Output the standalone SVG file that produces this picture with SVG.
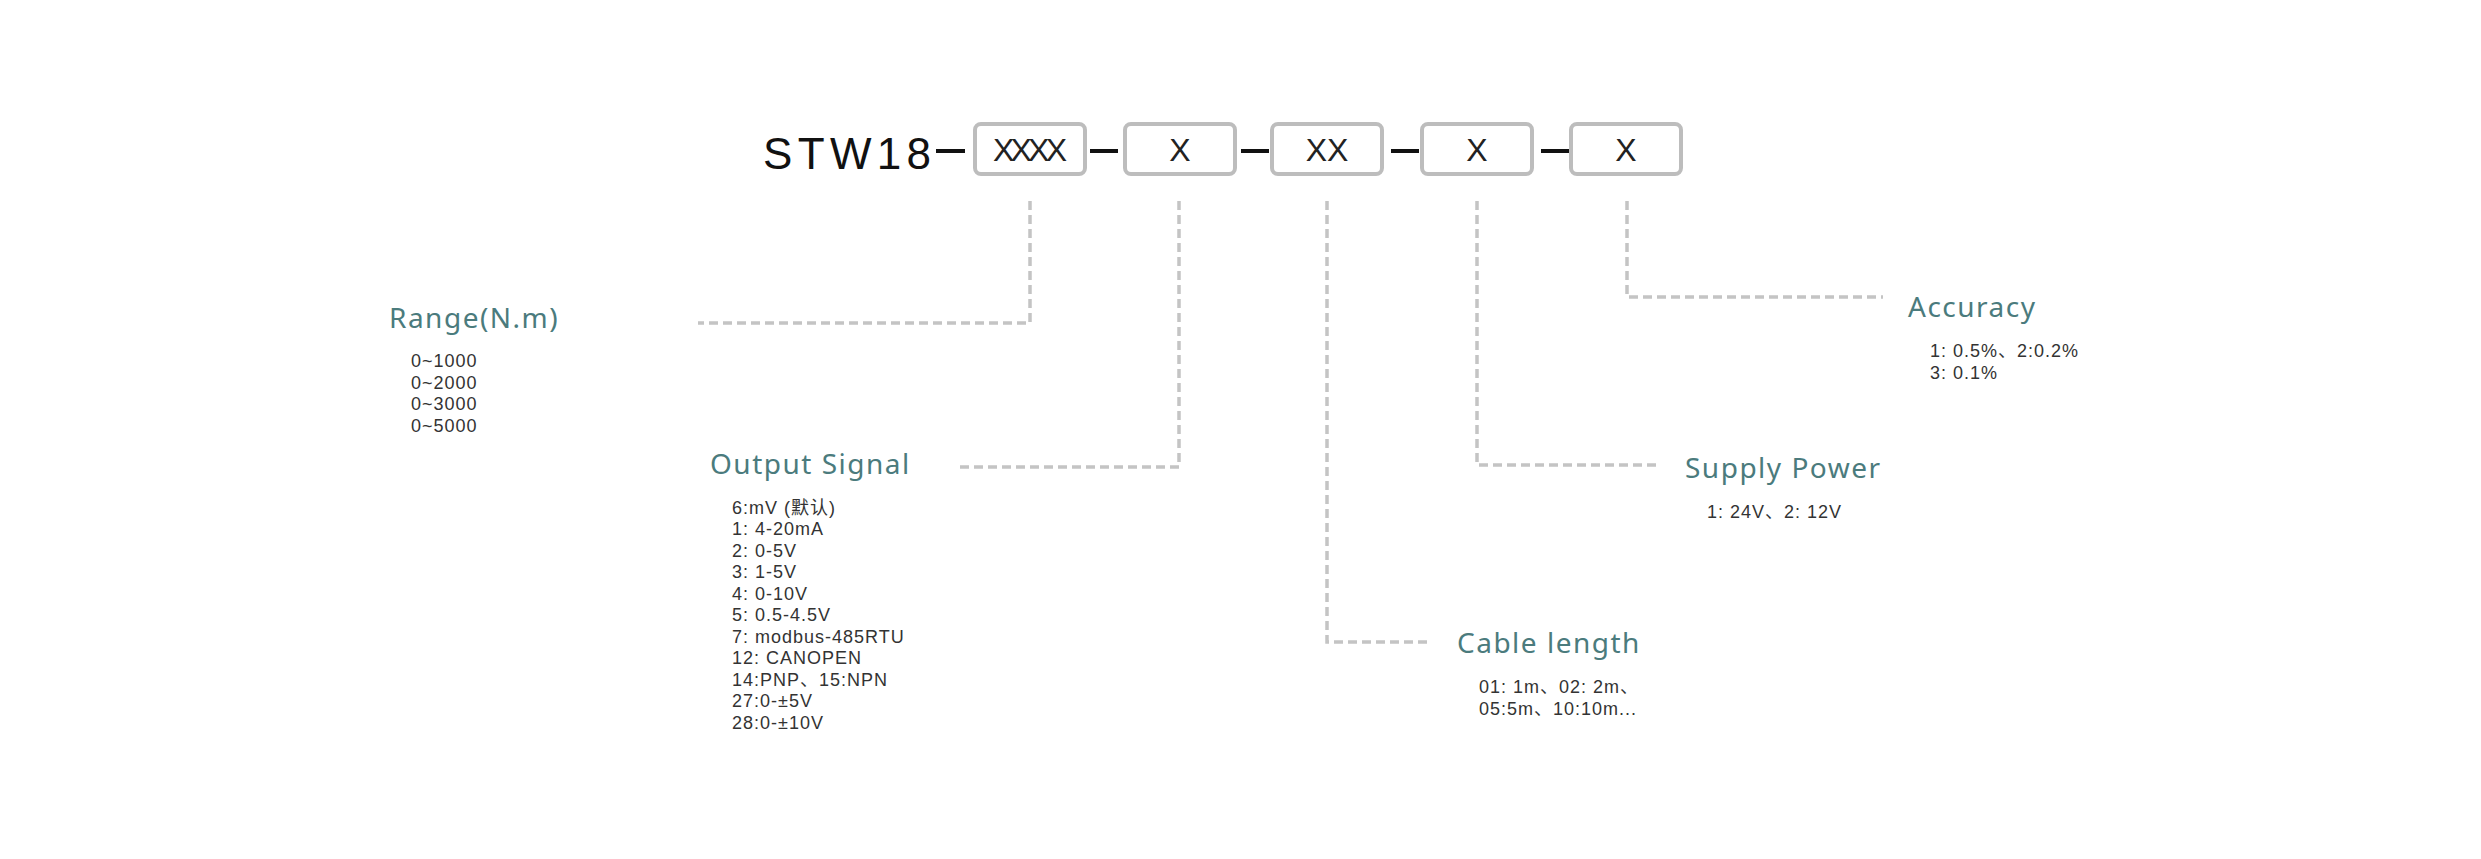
<svg xmlns="http://www.w3.org/2000/svg" width="2481" height="859" viewBox="0 0 2481 859">
<style>
.box{fill:#fff;stroke:#bdbdbd;stroke-width:4}
.bx{font-family:"Liberation Sans",sans-serif;font-size:32px;fill:#222;text-anchor:middle}
.sep{stroke:#111;stroke-width:4}
.con{fill:none;stroke:#c4c4c4;stroke-width:3.5;stroke-dasharray:9 5}
.ttl{font-family:"Noto Sans","Noto Sans CJK SC",sans-serif;font-size:28px;fill:#4b7b7d;letter-spacing:1.5px}
.itm{font-family:"Liberation Sans","Noto Sans CJK SC",sans-serif;font-size:18px;fill:#333;letter-spacing:1px}
</style>
<rect width="2481" height="859" fill="#fff"/>
<g id="code">
<text x="763" y="169" font-family="Liberation Sans,sans-serif" font-size="44" fill="#111" textLength="168">STW18</text>
<line class="sep" x1="936" y1="151" x2="965" y2="151"/>
<line class="sep" x1="1090" y1="151" x2="1118" y2="151"/>
<line class="sep" x1="1241" y1="151" x2="1269" y2="151"/>
<line class="sep" x1="1391" y1="151" x2="1419" y2="151"/>
<line class="sep" x1="1541" y1="151" x2="1569" y2="151"/>
</g>
<g id="box1"><rect class="box" x="975" y="124" width="110" height="50" rx="6"/><text class="bx" x="1030" y="161" textLength="74">XXXX</text></g>
<g id="box2"><rect class="box" x="1125" y="124" width="110" height="50" rx="6"/><text class="bx" x="1180" y="161">X</text></g>
<g id="box3"><rect class="box" x="1272" y="124" width="110" height="50" rx="6"/><text class="bx" x="1327" y="161">XX</text></g>
<g id="box4"><rect class="box" x="1422" y="124" width="110" height="50" rx="6"/><text class="bx" x="1477" y="161">X</text></g>
<g id="box5"><rect class="box" x="1571" y="124" width="110" height="50" rx="6"/><text class="bx" x="1626" y="161">X</text></g>
<g id="connectors">
<polyline class="con" points="1030,201 1030,323 698,323"/>
<polyline class="con" points="1179,201 1179,467 960,467"/>
<polyline class="con" points="1327,201 1327,642 1432,642"/>
<polyline class="con" points="1477,201 1477,465 1661,465"/>
<polyline class="con" points="1627,201 1627,297 1883,297"/>
</g>
<g id="range">
<text class="ttl" x="389" y="328">Range(N.m)</text>
<text class="itm" x="411" y="367">0~1000</text>
<text class="itm" x="411" y="389">0~2000</text>
<text class="itm" x="411" y="410">0~3000</text>
<text class="itm" x="411" y="432">0~5000</text>
</g>
<g id="output">
<text class="ttl" x="710" y="474">Output Signal</text>
<text class="itm" x="732" y="514">6:mV (默认)</text>
<text class="itm" x="732" y="535">1: 4-20mA</text>
<text class="itm" x="732" y="557">2: 0-5V</text>
<text class="itm" x="732" y="578">3: 1-5V</text>
<text class="itm" x="732" y="600">4: 0-10V</text>
<text class="itm" x="732" y="621">5: 0.5-4.5V</text>
<text class="itm" x="732" y="643">7: modbus-485RTU</text>
<text class="itm" x="732" y="664">12: CANOPEN</text>
<text class="itm" x="732" y="686">14:PNP、15:NPN</text>
<text class="itm" x="732" y="707">27:0-±5V</text>
<text class="itm" x="732" y="729">28:0-±10V</text>
</g>
<g id="cable">
<text class="ttl" x="1457" y="653">Cable length</text>
<text class="itm" x="1479" y="693">01: 1m、02: 2m、</text>
<text class="itm" x="1479" y="715">05:5m、10:10m...</text>
</g>
<g id="supply">
<text class="ttl" x="1685" y="478">Supply Power</text>
<text class="itm" x="1707" y="518">1: 24V、2: 12V</text>
</g>
<g id="accuracy">
<text class="ttl" x="1908" y="317">Accuracy</text>
<text class="itm" x="1930" y="357">1: 0.5%、2:0.2%</text>
<text class="itm" x="1930" y="379">3: 0.1%</text>
</g>
</svg>
